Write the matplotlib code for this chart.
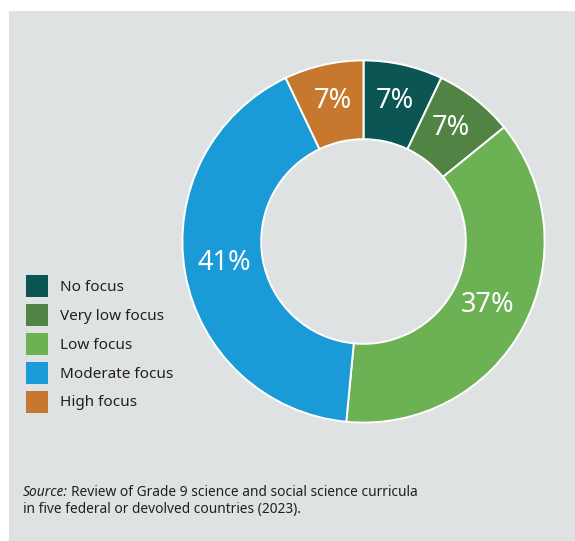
import matplotlib
matplotlib.use("Agg")
import matplotlib.pyplot as plt
from matplotlib.patches import Rectangle, Patch

# ── Data ────────────────────────────────────────────────────────────────────
categories = ["No focus", "Very low focus", "Low focus", "Moderate focus", "High focus"]
shares = [7, 7, 37, 41, 7]
colors = ["#0b5655", "#518444", "#6cb255", "#1a9bd7", "#c5782e"]

BG = "#dfe2e3"
W, H = 575, 541
TXT = "#231f20"

plt.rcParams["font.family"] = ["Noto Sans", "DejaVu Sans"]

fig = plt.figure(figsize=(W / 100, H / 100), dpi=100)
fig.patch.set_facecolor("white")

# grey panel behind everything
fig.patches.append(Rectangle((9 / W, 0), 1 - 9 / W, 1 - 11 / H,
                             transform=fig.transFigure, facecolor=BG,
                             edgecolor="none", zorder=-10))

# ── Donut ───────────────────────────────────────────────────────────────────
cx, cy, R = 363.5, 241.5, 182
ax = fig.add_axes([(cx - R) / W, (H - cy - R) / H, 2 * R / W, 2 * R / H])
ax.set_zorder(1)
ax.patch.set_visible(False)
wedges, texts, autotexts = ax.pie(
    shares, colors=colors, startangle=90, counterclock=False,
    radius=1.0, autopct="%.0f%%", pctdistance=0.78,
    wedgeprops=dict(width=0.435, edgecolor="white", linewidth=1.4),
    textprops=dict(color="white", fontsize=19.5, fontweight="light"))
for t, v in zip(autotexts, shares):
    t.set_text(f"{v}%")
    t.set_y(t.get_position()[1] + 0.015)
ax.set_xlim(-1.005, 1.005)
ax.set_ylim(-1.005, 1.005)
ax.set_aspect("equal")
ax.axis("off")

# ── Legend ──────────────────────────────────────────────────────────────────
handles = [Patch(facecolor=c, edgecolor="none") for c in colors]
leg = fig.legend(handles, categories, loc="upper left",
                 bbox_to_anchor=(26 / W, 1 - 275 / H),
                 frameon=False, fontsize=11, handlelength=1.44,
                 handleheight=1.84, handletextpad=0.8, labelspacing=0.45,
                 borderpad=0.0, borderaxespad=0.0)
for t in leg.get_texts():
    t.set_color(TXT)

# ── Source note ─────────────────────────────────────────────────────────────
fs = 9.9
src = fig.text(23 / W, 1 - 492 / H, "Source:", fontsize=fs, style="italic",
               color=TXT, va="center")
fig.canvas.draw()
x_end = src.get_window_extent().x1
fig.text((x_end + 3) / W, 1 - 492 / H,
         "Review of Grade 9 science and social science curricula",
         fontsize=fs, color=TXT, va="center")
fig.text(23 / W, 1 - 509 / H,
         "in five federal or devolved countries (2023).",
         fontsize=fs, color=TXT, va="center")

fig.savefig("out.png", dpi=100, facecolor=fig.get_facecolor())
